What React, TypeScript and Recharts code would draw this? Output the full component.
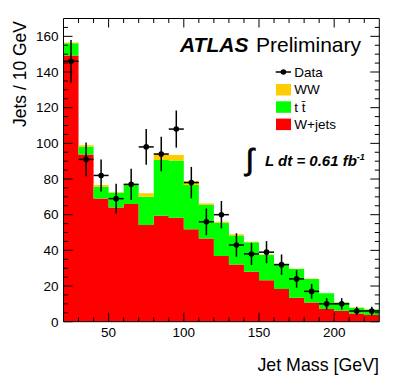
import React from 'react';
import { ComposedChart, Area, Scatter, ErrorBar, XAxis, YAxis } from 'recharts';

// ---- data ----
const binLow = [20, 30, 40, 50, 60, 70, 80, 90, 100, 110, 120, 130, 140, 150, 160, 170, 180, 190, 200, 210, 220];
const binHigh = 230;
const wjets = [149.2, 93.8, 69.1, 64.1, 66.0, 54.2, 59.4, 58.3, 51.8, 46.7, 36.8, 32.1, 28.0, 23.3, 18.3, 13.4, 10.8, 7.1, 6.1, 4.6, 3.7];
const ttbar = [6.9, 4.3, 6.6, 8.2, 10.6, 15.8, 31.2, 32.1, 24.8, 18.7, 18.7, 16.3, 16.5, 14.1, 14.0, 16.1, 13.1, 8.8, 4.7, 3.2, 3.2];
const wwVals = [0.4, 0.8, 1.0, 0.3, 0.5, 2.0, 3.5, 3.1, 2.3, 0.9, 0.5, 0.6, 0.3, 0.3, 0.2, 0.2, 0.2, 0.1, 0.1, 0.1, 0.1];

const dataX = [25, 35, 45, 55, 65, 75, 85, 95, 105, 115, 125, 135, 145, 155, 165, 175, 185, 195, 205, 215, 225];
const dataY = [146, 91, 82, 69, 77, 98, 94, 108, 78, 56, 60, 43, 38, 39, 32, 24, 17, 10, 10, 6, 6];
const dataErr = [12, 9.5, 9, 8.3, 8.7, 10, 9.7, 10.4, 8.8, 7.5, 7.7, 6.6, 6.2, 6.2, 5.7, 4.9, 4.1, 3.2, 3.2, 2.4, 2.4];
const binHalfWidth = 5;

const xTicks = [30, 40, 50, 60, 70, 80, 90, 100, 110, 120, 130, 140, 150, 160, 170, 180, 190, 200, 210, 220];
const xLabels = [50, 100, 150, 200];
const yTicks = [0, 5, 10, 15, 20, 25, 30, 35, 40, 45, 50, 55, 60, 65, 70, 75, 80, 85, 90, 95, 100, 105, 110, 115, 120, 125, 130, 135, 140, 145, 150, 155, 160, 165];
const yLabels = [0, 20, 40, 60, 80, 100, 120, 140, 160];

const seriesNames = ['WW', 't t\u0304', 'W+jets'];
const seriesColors = ['#ffcc00', '#00ff00', '#ff0000'];

// ---- derived tables ----
const histData = binLow.map((x, i) => ({ x, wjets: wjets[i], ttbar: ttbar[i], ww: wwVals[i] }));
histData.push({ x: binHigh, wjets: wjets[wjets.length - 1], ttbar: ttbar[ttbar.length - 1], ww: wwVals[wwVals.length - 1] });
const pointData = dataX.map((x, i) => ({ x, y: dataY[i], ex: binHalfWidth, ey: dataErr[i] }));

const FONT = '"Liberation Sans", Arial, Helvetica, sans-serif';
const W = 391;
const H = 375;
const TICK_COLOR = '#000';
const MAJ = 9;
const MIN = 4.5;
const LBL_FS = 13.5;

const LeftTick = (p: any) => {
  const v = p.payload.value;
  const major = yLabels.includes(v);
  const edge = p.x + 5;
  return (
    <g>
      <line x1={edge} x2={edge + (major ? MAJ : MIN)} y1={p.y} y2={p.y} stroke={TICK_COLOR} strokeWidth={1} />
      {major && (
        <text x={p.x} y={p.y} dy={4.8} textAnchor="end" fontFamily={FONT} fontSize={LBL_FS} fill="#000">
          {v}
        </text>
      )}
    </g>
  );
};

const RightTick = (p: any) => {
  const v = p.payload.value;
  const major = yLabels.includes(v);
  return <line x1={p.x} x2={p.x - (major ? MAJ : MIN)} y1={p.y} y2={p.y} stroke={TICK_COLOR} strokeWidth={1} />;
};

const BottomTick = (p: any) => {
  const v = p.payload.value;
  const major = xLabels.includes(v);
  return (
    <g>
      <line x1={p.x} x2={p.x} y1={p.y} y2={p.y - (major ? MAJ : MIN)} stroke={TICK_COLOR} strokeWidth={1} />
      {major && (
        <text x={p.x} y={p.y + 14.8} textAnchor="middle" fontFamily={FONT} fontSize={LBL_FS} fill="#000">
          {v}
        </text>
      )}
    </g>
  );
};

const TopTick = (p: any) => {
  const v = p.payload.value;
  const major = xLabels.includes(v);
  return <line x1={p.x} x2={p.x} y1={p.y} y2={p.y + (major ? MAJ : MIN)} stroke={TICK_COLOR} strokeWidth={1} />;
};

const Dot = (p: any) => <circle cx={p.cx} cy={p.cy} r={2.8} fill="#000" />;

const axisLine = { stroke: '#000', strokeWidth: 1 };

export default function App() {
  return (
    <div style={{ position: 'relative', width: W, height: H }}>
      <ComposedChart
        width={W}
        height={H}
        data={histData}
        margin={{ top: 5.5, right: 14.7, bottom: 31.3, left: 0 }}
      >
        <XAxis
          xAxisId="bottom"
          dataKey="x"
          type="number"
          domain={[20, 230]}
          allowDataOverflow
          ticks={xTicks}
          interval={0}
          tickSize={0}
          tickMargin={0}
          tickLine={false}
          axisLine={axisLine}
          tick={BottomTick}
          height={30}
          orientation="bottom"
        />
        <XAxis
          xAxisId="top"
          dataKey="x"
          type="number"
          domain={[20, 230]}
          allowDataOverflow
          ticks={xTicks}
          interval={0}
          tickSize={0}
          tickMargin={0}
          tickLine={false}
          axisLine={axisLine}
          tick={TopTick}
          height={5}
          orientation="top"
        />
        <YAxis
          yAxisId="left"
          type="number"
          domain={[0, 170]}
          allowDataOverflow
          ticks={yTicks}
          interval={0}
          tickSize={0}
          tickMargin={5}
          tickLine={false}
          axisLine={axisLine}
          tick={LeftTick}
          width={55.5}
          orientation="left"
        />
        <YAxis
          yAxisId="right"
          type="number"
          domain={[0, 170]}
          allowDataOverflow
          ticks={yTicks}
          interval={0}
          tickSize={0}
          tickMargin={0}
          tickLine={false}
          axisLine={axisLine}
          tick={RightTick}
          width={5}
          orientation="right"
        />
        <Area
          xAxisId="bottom"
          yAxisId="left"
          type="stepAfter"
          dataKey="wjets"
          stackId="mc"
          fill={seriesColors[2]}
          fillOpacity={1}
          stroke="none"
          isAnimationActive={false}
        />
        <Area
          xAxisId="bottom"
          yAxisId="left"
          type="stepAfter"
          dataKey="ttbar"
          stackId="mc"
          fill={seriesColors[1]}
          fillOpacity={1}
          stroke="none"
          isAnimationActive={false}
        />
        <Area
          xAxisId="bottom"
          yAxisId="left"
          type="stepAfter"
          dataKey="ww"
          stackId="mc"
          fill={seriesColors[0]}
          fillOpacity={1}
          stroke="none"
          isAnimationActive={false}
        />
        <Scatter
          xAxisId="bottom"
          yAxisId="left"
          data={pointData}
          dataKey="y"
          shape={Dot}
          isAnimationActive={false}
        >
          <ErrorBar dataKey="ey" direction="y" width={0} stroke="#000" strokeWidth={1.5} isAnimationActive={false} />
          <ErrorBar dataKey="ex" direction="x" width={0} stroke="#000" strokeWidth={1.5} isAnimationActive={false} />
        </Scatter>
      </ComposedChart>
      <svg
        width={W}
        height={H}
        style={{ position: 'absolute', left: 0, top: 0, pointerEvents: 'none' }}
        fontFamily={FONT}
      >
        <text x={18} y={13} transform="rotate(-90 18 13)" textAnchor="end" fontSize={17.5} fill="#000">
          Jets / 10 GeV
        </text>
        <text x={371} y={362.5} textAnchor="end" fontSize={17.8} fill="#000">
          Jet Mass [GeV]
        </text>
        <text x={172} y={43.7} fontSize={21} fontWeight="bold" fontStyle="italic" fill="#000">
          ATLAS
        </text>
        <text x={248} y={43.7} fontSize={21} fill="#000">
          Preliminary
        </text>
        {/* legend */}
        <line x1={267.7} x2={283} y1={64} y2={64} stroke="#000" strokeWidth={1.5} />
        <circle cx={275.4} cy={64} r={2.8} fill="#000" />
        <text x={286.3} y={68.8} fontSize={13.5} fill="#000">Data</text>
        {seriesNames.map((n, i) => (
          <g key={n}>
            <rect x={268} y={76 + i * 17.3} width={15} height={11.5} fill={seriesColors[i]} />
            <text x={286.3} y={86.3 + i * 17.3} fontSize={13.5} fill="#000">{n}</text>
          </g>
        ))}
        <text x={237.5} y={162} fontSize={30} fill="#000" stroke="#000" strokeWidth={0.7}>{'\u222B'}</text>
        <text x={257} y={158} fontSize={15} fontWeight="bold" fontStyle="italic" fill="#000">
          L dt = 0.61 fb<tspan dy={-6} fontSize={9}>-1</tspan>
        </text>
      </svg>
    </div>
  );
}
